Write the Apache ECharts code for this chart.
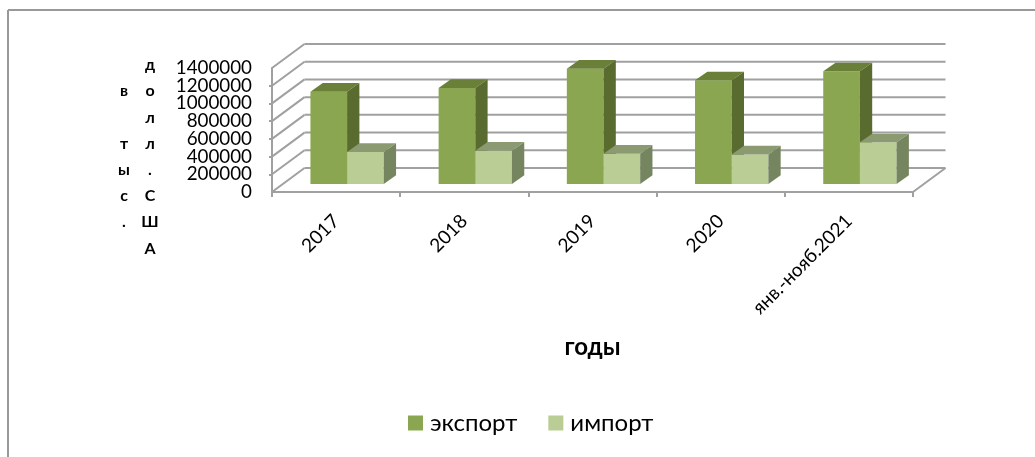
<!DOCTYPE html>
<html style="height: 100%">
<head>
    <meta charset="utf-8">
    <script src="https://cdn.jsdelivr.net/npm/echarts@6/dist/echarts.min.js"></script>
</head>
<body style="height: 100%; margin: 0; background: #fff">
<div id="main" style="width: 1035px; height: 457px"></div>
<script type="text/javascript">
    const categories = ['2017', '2018', '2019', '2020', 'янв.-нояб.2021'];
    const exportValues = [1042000, 1084000, 1302000, 1170000, 1272000];
    const importValues = [361000, 376000, 342000, 334000, 470000];
    const yTicks = [0, 200000, 400000, 600000, 800000, 1000000, 1200000, 1400000];
    const axisTitleLeft = ['', 'в', '', 'т', 'ы', 'с', '.', ''];
    const axisTitleRight = ['д', 'о', 'л', 'л', '.', 'С', 'Ш', 'А'];

    const fontName = 'Lato, "Open Sans", sans-serif';
    const wallDx = 32.5, wallDy = 24;   // depth of the floor
    const barDx = 11, barDy = 8;        // bars stand a bit behind the front edge
    const depthDx = 12.3, depthDy = 8.7;  // depth of one bar
    const barRatio = 0.286;

    function poly(points, color) {
        return {type: 'polygon', shape: {points: points}, style: {fill: color}};
    }

    function barRenderer(side, front, top, right) {
        return function (params, api) {
            let p = api.coord([api.value(0), api.value(1)]);
            let base = api.coord([api.value(0), 0]);
            let w = api.size([1, 0])[0] * barRatio;
            let x0 = p[0] + barDx + (side === 0 ? -w : 0);
            let x1 = x0 + w;
            let y0 = p[1] - barDy;
            let y1 = base[1] - barDy;
            return {
                type: 'group',
                children: [
                    poly([[x0, y0], [x1, y0], [x1, y1], [x0, y1]], front),
                    poly([[x0, y0], [x0 + depthDx, y0 - depthDy], [x1 + depthDx, y0 - depthDy], [x1, y0]], top),
                    poly([[x1, y0], [x1 + depthDx, y0 - depthDy], [x1 + depthDx, y1 - depthDy], [x1, y1]], right)
                ]
            };
        };
    }

    function wallRenderer(params, api) {
        let cs = params.coordSys;
        let y = api.coord([0, api.value(1)])[1];
        let lineStyle = {stroke: '#a0a0a0', lineWidth: 2, fill: 'none'};
        let children = [
            {type: 'line', shape: {x1: cs.x, y1: y, x2: cs.x + wallDx, y2: y - wallDy}, style: lineStyle},
            {type: 'line', shape: {x1: cs.x + wallDx, y1: y - wallDy, x2: cs.x + cs.width + wallDx, y2: y - wallDy}, style: lineStyle}
        ];
        if (api.value(1) === 0) {
            children.push({type: 'line', shape: {x1: cs.x + cs.width, y1: y, x2: cs.x + cs.width + wallDx, y2: y - wallDy}, style: lineStyle});
        }
        return {type: 'group', children: children};
    }

    let yLabelStyle = {margin: 20, padding: [5, 0, 0, 0], fontFamily: fontName, fontSize: 18.8, color: '#000', formatter: function (v) { return String(v); }};

    let chart = echarts.init(document.getElementById('main'));
    chart.setOption({
        animation: false,
        backgroundColor: '#fff',
        grid: {left: 272, top: 68, width: 641, height: 124},
        legend: {
            data: ['экспорт', 'импорт'],
            left: 403, top: 406,
            icon: 'rect',
            itemWidth: 15, itemHeight: 15,
            itemGap: 31,
            textStyle: {fontFamily: fontName, fontSize: 24, color: '#000', padding: [0, 0, 0, 2]}
        },
        xAxis: {
            type: 'category',
            data: categories,
            name: 'годы',
            nameLocation: 'middle',
            nameGap: 143,
            nameTextStyle: {fontFamily: fontName, fontSize: 24, fontWeight: 'bold', color: '#000'},
            axisLine: {lineStyle: {color: '#a0a0a0', width: 2}},
            axisTick: {show: true, length: 5, lineStyle: {color: '#a0a0a0', width: 2}},
            axisLabel: {rotate: 45, margin: 26, interval: 0, fontFamily: fontName, fontSize: 19, color: '#000'}
        },
        yAxis: [
            {
                type: 'value',
                min: 0,
                max: 1400000,
                interval: 200000,
                splitLine: {show: false},
                axisLine: {show: true, lineStyle: {color: '#a0a0a0', width: 2}},
                axisTick: {show: true, length: 3, lineStyle: {color: '#a0a0a0', width: 2}},
                axisLabel: Object.assign({showMinLabel: false, showMaxLabel: false}, yLabelStyle)
            },
            {
                // the first and last labels touch their neighbours, so they get their own axis
                type: 'value',
                position: 'left',
                min: 0,
                max: 1400000,
                interval: 1400000,
                splitLine: {show: false},
                axisLine: {show: false},
                axisTick: {show: false},
                axisLabel: yLabelStyle
            }
        ],
        graphic: [
            {type: 'line', shape: {x1: 8, y1: 10, x2: 1035, y2: 10}, style: {stroke: '#999', lineWidth: 2}},
            {type: 'line', shape: {x1: 8, y1: 10, x2: 8, y2: 457}, style: {stroke: '#999', lineWidth: 2}},
            {type: 'text', x: 124, y: 52, style: {text: axisTitleLeft.join('\n'), textAlign: 'center', textVerticalAlign: 'top', font: 'bold 16px ' + fontName, lineHeight: 26.2, fill: '#000'}},
            {type: 'text', x: 150, y: 52, style: {text: axisTitleRight.join('\n'), textAlign: 'center', textVerticalAlign: 'top', font: 'bold 16px ' + fontName, lineHeight: 26.2, fill: '#000'}}
        ],
        series: [
            {
                name: 'стенки',
                type: 'custom',
                silent: true,
                renderItem: wallRenderer,
                data: yTicks.map(function (v) { return [0, v]; })
            },
            {
                name: 'экспорт',
                type: 'custom',
                itemStyle: {color: '#8aa650'},
                renderItem: barRenderer(0, '#8aa650', '#6a8039', '#5a6b30'),
                data: exportValues.map(function (v, i) { return [i, v]; })
            },
            {
                name: 'импорт',
                type: 'custom',
                itemStyle: {color: '#b9cd94'},
                renderItem: barRenderer(1, '#b9cd94', '#8c9a72', '#758560'),
                data: importValues.map(function (v, i) { return [i, v]; })
            }
        ]
    });
</script>
</body>
</html>
